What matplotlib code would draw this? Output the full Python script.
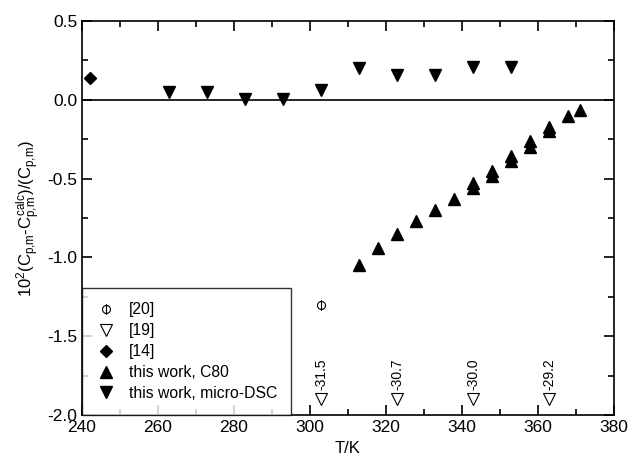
import numpy as np
import matplotlib.pyplot as plt
from matplotlib.path import Path
from matplotlib.ticker import MultipleLocator

plt.rcParams['font.family'] = ['Liberation Sans', 'DejaVu Sans']
plt.rcParams['mathtext.fontset'] = 'custom'
plt.rcParams['mathtext.rm'] = 'Liberation Sans'
plt.rcParams['mathtext.it'] = 'Liberation Sans'

# data
t_ref20 = [303]
d_ref20 = [-1.30]

t_ref19 = [303, 323, 343, 363]
d_ref19 = [-1.90, -1.90, -1.90, -1.90]
lab_ref19 = ['-31.5', '-30.7', '-30.0', '-29.2']

t_ref14 = [242]
d_ref14 = [0.14]

t_c80 = [313, 318, 323, 328, 333, 338, 343, 343, 348, 348, 353, 353,
         358, 358, 363, 363, 368, 371]
d_c80 = [-1.05, -0.94, -0.85, -0.77, -0.70, -0.63, -0.53, -0.56, -0.45, -0.48,
         -0.355, -0.39, -0.26, -0.30, -0.17, -0.20, -0.105, -0.065]

t_dsc = [263, 273, 283, 293, 303, 313, 323, 333, 343, 353]
d_dsc = [0.05, 0.05, 0.005, 0.005, 0.06, 0.20, 0.16, 0.16, 0.21, 0.21]

# circle with a vertical bar through it
circ = Path.unit_circle()
bar = Path([[0, -1.3], [0, 1.3]], [Path.MOVETO, Path.LINETO])
phi = Path.make_compound_path(circ, bar)

fig = plt.figure(figsize=(6.31, 4.68), dpi=100)
ax = fig.add_axes([0.130, 0.113, 0.843, 0.842])

ax.axhline(0, color='black', lw=1.2, zorder=1)

ax.plot(t_ref20, d_ref20, ls='none', marker=phi, ms=7.5, mfc='none', mec='black',
        mew=0.8, label='[20]')
ax.plot(t_ref19, d_ref19, ls='none', marker='v', ms=8, mfc='white', mec='black',
        mew=0.8, label='[19]')
ax.plot(t_ref14, d_ref14, ls='none', marker='D', ms=6.5, color='black', label='[14]')
ax.plot(t_c80, d_c80, ls='none', marker='^', ms=8.5, color='black',
        label='this work, C80')
ax.plot(t_dsc, d_dsc, ls='none', marker='v', ms=8.5, color='black',
        label='this work, micro-DSC')

for t, s in zip(t_ref19, lab_ref19):
    ax.text(t, -1.74, s, rotation=90, ha='center', va='center', fontsize=10)

ax.set_xlim(240, 380)
ax.set_ylim(-2.0, 0.5)
ax.xaxis.set_major_locator(MultipleLocator(20))
ax.xaxis.set_minor_locator(MultipleLocator(10))
ax.yaxis.set_major_locator(MultipleLocator(0.5))
ax.yaxis.set_minor_locator(MultipleLocator(0.25))
ax.yaxis.set_major_formatter(plt.FormatStrFormatter('%.1f'))
ax.tick_params(which='both', direction='in', top=True, right=True,
               labelsize=12.5, width=1.2)
ax.tick_params(which='major', length=7)
ax.tick_params(which='minor', length=4)
for sp in ax.spines.values():
    sp.set_linewidth(1.2)

ax.set_xlabel('T/K', fontsize=12)
ax.set_ylabel(r'$10^2(C_{p{,}m}\text{-}C_{p{,}m}^{calc})/(C_{p{,}m})$',
              fontsize=12, labelpad=3)

leg = ax.legend(loc='lower left', bbox_to_anchor=(0, 0), borderaxespad=0,
                fontsize=11.3, frameon=True, fancybox=False, edgecolor='black',
                handlelength=1.2, handletextpad=0.9, labelspacing=0.38,
                borderpad=0.9)
leg.get_frame().set_linewidth(1.0)

fig.savefig('out.png', dpi=100)
